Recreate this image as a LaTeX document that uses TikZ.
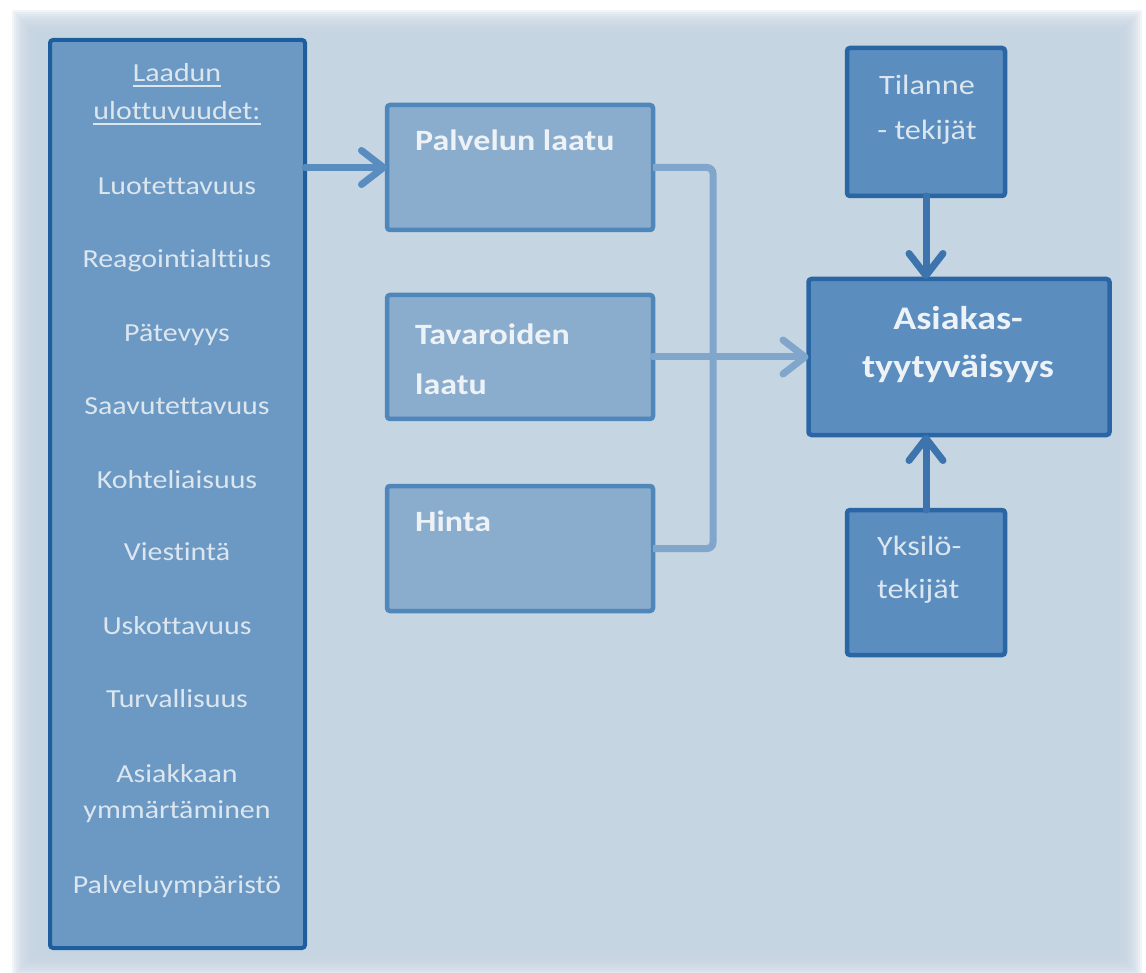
\documentclass[tikz,border=0pt]{standalone}
\usepackage{fontspec}
\setmainfont{Carlito}[FakeStretch=1.15, Ligatures=NoCommon]
\usetikzlibrary{arrows.meta,calc}

\definecolor{panel}{HTML}{C6D5E2}
\definecolor{lfill}{HTML}{6B99C4}
\definecolor{ledge}{HTML}{1F5E9E}
\definecolor{mfill}{HTML}{8AACCD}
\definecolor{medge}{HTML}{5087BA}
\definecolor{rfill}{HTML}{5B8DBF}
\definecolor{redge}{HTML}{2A65A4}
\definecolor{ltext}{HTML}{DCE6EF}
\definecolor{mtext}{HTML}{EDF2F7}
\definecolor{conncol}{HTML}{80A6CC}
\definecolor{arrcol}{HTML}{5A8DBF}
\definecolor{varrcol}{HTML}{3D74AD}

\begin{document}
\begin{tikzpicture}[x=1pt,y=-1pt,
  boxbase/.style={rectangle, draw, rounded corners=3pt, inner sep=0pt, outer sep=0pt},
  lbox/.style={boxbase, fill=lfill, draw=ledge, line width=4pt},
  mbox/.style={boxbase, fill=mfill, draw=medge, line width=4.5pt},
  rbox/.style={boxbase, fill=rfill, draw=redge, line width=4.5pt},
  ltxt/.style={anchor=base, text=ltext, font=\fontsize{26}{30}\selectfont, inner sep=0pt},
  mtxt/.style={anchor=base west, text=mtext, font=\fontsize{29.5}{34}\selectfont\bfseries, inner sep=0pt},
  rtxt/.style={text=ltext, font=\fontsize{28}{32}\selectfont, inner sep=0pt},
  atxt/.style={anchor=base, text=mtext, font=\fontsize{33}{38}\selectfont\bfseries, inner sep=0pt},
  ulin/.style={draw=ltext, line width=1.8pt},
  conn/.style={draw=conncol, line width=7pt, rounded corners=6pt},
  arr/.style={draw=arrcol, line width=7pt, line cap=round,
    -{Straight Barb[length=22pt,width=34pt,line cap=round,line join=round]}},
  varr/.style={draw=varrcol, line width=7pt, line cap=round,
    -{Straight Barb[length=22pt,width=34pt,line cap=round,line join=round]}},
]
\useasboundingbox (0,0) rectangle (1146,973);

% soft-edged backdrop panel
\fill[white] (0,0) rectangle (1146,973);
\foreach \i in {0,...,13}
  \fill[panel, fill opacity=0.22] (12+2*\i,10+2*\i) rectangle (1142-2*\i,978-2*\i);
\fill[panel] (40,38) rectangle (1114,950);

% quality dimensions column
\node[lbox, minimum width=255pt, minimum height=908pt] (lft) at (177.5,494) {};
\node[ltxt] (h1) at (177,82) {Laadun};
\node[ltxt] (h2) at (177,120) {ulottuvuudet:};
\draw[ulin] ($(h1.base west)+(0,4)$) -- ($(h1.base east)+(0,4)$);
\draw[ulin] ($(h2.base west)+(0,4)$) -- ($(h2.base east)+(0,4)$);
\node[ltxt] (d1) at (177,195) {Luotettavuus};
\node[ltxt] (d2) at (177,268) {Reagointialttius};
\node[ltxt] (d3) at (177,342) {Pätevyys};
\node[ltxt] (d4) at (177,415) {Saavutettavuus};
\node[ltxt] (d5) at (177,488) {Kohteliaisuus};
\node[ltxt] (d6) at (177,560) {Viestintä};
\node[ltxt] (d7) at (177,634) {Uskottavuus};
\node[ltxt] (d8) at (177,707) {Turvallisuus};
\node[ltxt] (d9a) at (177,782) {Asiakkaan};
\node[ltxt] (d9b) at (177,818) {ymmärtäminen};
\node[ltxt] (d10) at (177,893) {Palveluympäristö};

% middle column
\node[mbox, minimum width=266pt, minimum height=125pt] (pal) at (520,167.5) {};
\node[mtxt] (palt) at (415,151) {Palvelun laatu};
\node[mbox, minimum width=266pt, minimum height=124pt] (tav) at (520,357) {};
\node[mtxt] (tavt1) at (415,345) {Tavaroiden};
\node[mtxt] (tavt2) at (415,395) {laatu};
\node[mbox, minimum width=266pt, minimum height=125pt] (hin) at (520,548.5) {};
\node[mtxt] (hint) at (415,531) {Hinta};

% right column
\node[rbox, minimum width=158pt, minimum height=148pt] (til) at (926,122) {};
\node[rtxt, anchor=base] (tilt1) at (927,95) {Tilanne};
\node[rtxt, anchor=base] (tilt2) at (927,140) {- tekijät};
\node[rbox, minimum width=301pt, minimum height=156pt] (asi) at (959,357) {};
\node[atxt] (asit1) at (958,330) {Asiakas-};
\node[atxt] (asit2) at (958,378) {tyytyväisyys};
\node[rbox, minimum width=158pt, minimum height=145pt] (yks) at (926,582.5) {};
\node[rtxt, anchor=base west] (ykst1) at (877,555) {Yksilö-};
\node[rtxt, anchor=base west] (ykst2) at (877,598) {tekijät};

% connectors
\coordinate (bus) at (713,357);
\draw[arr] (lft.east |- pal.west) -- (pal.west);
\draw[conn] (pal.east) -| (bus) |- (hin.east);
\draw[arr, draw=conncol] (tav.east) -- (asi.west);
\draw[varr] (til.south) -- (til.south |- asi.north);
\draw[varr] (yks.north) -- (yks.north |- asi.south);
\end{tikzpicture}
\end{document}
